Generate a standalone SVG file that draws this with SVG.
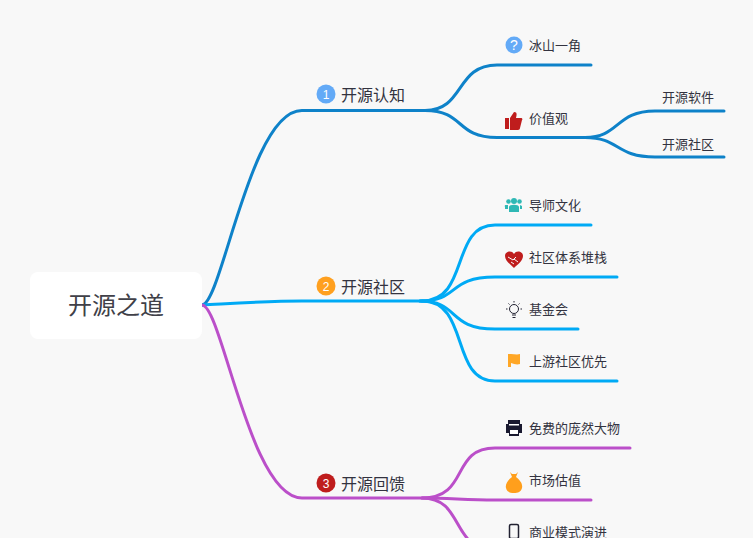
<svg xmlns="http://www.w3.org/2000/svg" width="753" height="538" viewBox="0 0 753 538">
<style>
text{font-family:"Liberation Sans","Noto Sans CJK SC",sans-serif;fill:#333340}
.t1{font-size:16px}.t2{font-size:13px}
.root{font-size:24px;fill:#404048}
.c{fill:none;stroke-width:3;stroke-linecap:round}
.a{stroke:#0e82c9}.b{stroke:#00aaf5}.d{stroke:#bb4fc9}
.num{font-size:12px;fill:#fff;text-anchor:middle}
</style>
<rect width="753" height="538" fill="#f8f8f8"/>
<g id="connectors">
<path class="c a" d="M202 305C222 304 250 110 302 110.500H425C465 110.500 455 65 497 65H591"/>
<path class="c a" d="M425 110.500C465 110.500 455 137.500 497 137.500H585C620 137.500 615 111 655 111H724"/>
<path class="c a" d="M585 137.500C620 137.500 615 157 655 157H724"/>
<path class="c b" d="M202 305C240 303 270 301 302 301H422C470 301 450 225 495 225H591"/>
<path class="c b" d="M420 301C460 301 447 277 495 277H617"/>
<path class="c b" d="M420 301C460 301 447 329 495 329H578"/>
<path class="c b" d="M422 301C470 301 450 381 495 381H617"/>
<path class="c d" d="M202 305C222 306 250 498 302 498H422C470 498 450 448 495 448H630"/>
<path class="c d" d="M422 498C450 498 465 500 495 500H591"/>
<path class="c d" d="M422 498C465 498 450 550 495 550"/>
</g>
<g id="root"><rect x="30" y="272" width="172" height="67" rx="8" fill="#fff"/><text class="root" x="116" y="314" text-anchor="middle">开源之道</text></g>
<g id="n1"><circle cx="326" cy="94" r="9.500" fill="#63aaf7"/><text class="num" x="326" y="98.500">1</text><text class="t1" x="341" y="100.500">开源认知</text></g>
<g id="n2"><circle cx="326" cy="286" r="9.500" fill="#ffa01f"/><text class="num" x="326" y="290.500">2</text><text class="t1" x="341" y="292.500">开源社区</text></g>
<g id="n3"><circle cx="326" cy="483" r="9.500" fill="#bf1d1d"/><text class="num" x="326" y="487.500">3</text><text class="t1" x="341" y="489.500">开源回馈</text></g>
<g id="n11"><circle cx="514" cy="45" r="8.500" fill="#63aaf7"/><text x="514" y="50" font-size="14" text-anchor="middle" style="fill:#fff">?</text><text class="t2" x="529" y="49.500">冰山一角</text></g>
<g id="n12"><path d="M505 118h4v11h-4zM510 118l4-6c3 0 3 2 2 6h5c1 0 2 1 1 2l-2 8c0 1-1 2-2 2h-8z" fill="#bf1d1d"/><text class="t2" x="529" y="122.500">价值观</text></g>
<g id="n121"><text class="t2" x="662" y="101.500">开源软件</text></g>
<g id="n122"><text class="t2" x="662" y="148.500">开源社区</text></g>
<g id="n21"><g fill="#2fb8b5"><circle cx="514" cy="201" r="3"/><circle cx="508.500" cy="201.500" r="2.300"/><circle cx="519.500" cy="201.500" r="2.300"/><path d="M509 212v-5c0-3 10-3 10 0v5zM506 209h2v-4l-2 0c-2 0-1 2-1 2v2zM520 205v4h2v-3z"/></g><text class="t2" x="529" y="209.500">导师文化</text></g>
<g id="n22"><path d="M514 268c-3-3-9-7-9-12 0-5 7-6 9-2 2-4 9-3 9 2 0 5-6 9-9 12z" fill="#bf1d1d"/><path d="M508 257l5 3 3-3M511 262l3 2M514 259l4 3" fill="none" stroke="#f8f8f8" stroke-width="1"/><text class="t2" x="529" y="261.500">社区体系堆栈</text></g>
<g id="n23"><circle cx="514" cy="309" r="4.500" fill="none" stroke="#222232"/><path d="M512 315h4M512.500 317.500h3M506 309h1.500M520.500 309h1.500M514 301v1.500M508.500 303.500l1 1M519.500 303.500l-1 1" stroke="#222232" fill="none"/><text class="t2" x="529" y="313.500">基金会</text></g>
<g id="n24"><path d="M508 354h3c3 0 6 1 9 0v10c-3 1-6 0-9-1v4h-3z" fill="#ffa726"/><text class="t2" x="529" y="365.500">上游社区优先</text></g>
<g id="n31"><path d="M508 420h12v4h2v9h-3v3h-10v-3h-3v-9h2z" fill="#1a1a30"/><rect x="510" y="430" width="8" height="4" fill="#fff"/><rect x="509" y="424" width="10" height="1.500" fill="#fff"/><text class="t2" x="529" y="432.500">免费的庞然大物</text></g>
<g id="n32"><path d="M510 472l2 2h4l2-2-2 5c4 3 7 7 6 11-1 4-4 5-8 5s-7-1-8-5c-1-4 2-8 6-11z" fill="#ff9f1c"/><text class="t2" x="529" y="484.500">市场估值</text></g>
<g id="n33"><rect x="509.500" y="524.500" width="9" height="14" rx="1.500" fill="none" stroke="#222232" stroke-width="1.500"/><text class="t2" x="529" y="536.500">商业模式演进</text></g>
</svg>
